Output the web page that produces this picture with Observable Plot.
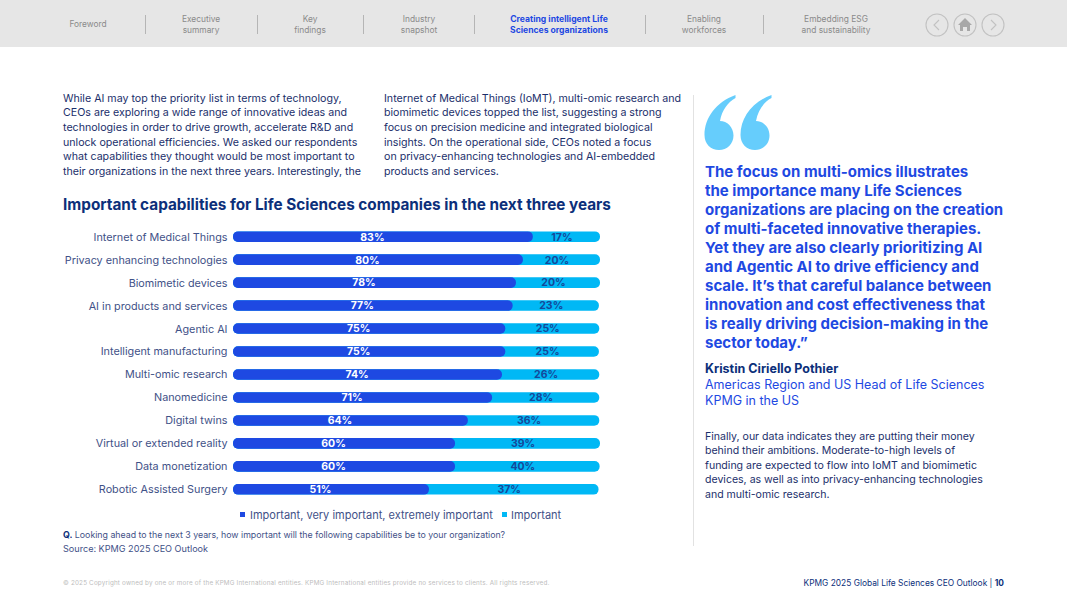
<!DOCTYPE html>
<html lang="en">
<head>
<meta charset="utf-8">
<script src="https://cdn.jsdelivr.net/npm/d3@7"></script>
<script src="https://cdn.jsdelivr.net/npm/@observablehq/plot@0.6"></script>
<style>
html,body{margin:0;padding:0;background:#fff;overflow:hidden}
#page{position:relative;width:1067px;height:600px;font-family:Inter,"Noto Sans",sans-serif;color:#1b2f6b;overflow:hidden}
.t{position:absolute;white-space:nowrap;line-height:1;transform:translateY(-50%)}
.c{transform:translate(-50%,-50%);text-align:center}
.r{transform:translate(-100%,-50%)}
#plot{position:absolute;left:0;top:219px}
#plot svg{display:block}
.box{position:absolute}
</style>
</head>
<body>
<div id="page"></div>
<script>
// ---- chart data ----
const categories = ["Internet of Medical Things","Privacy enhancing technologies","Biomimetic devices","AI in products and services","Agentic AI","Intelligent manufacturing","Multi-omic research","Nanomedicine","Digital twins","Virtual or extended reality","Data monetization","Robotic Assisted Surgery"];
// printed labels
const printedHigh = [83,80,78,77,75,75,74,71,64,60,60,51];
const printedImportant = [17,20,20,23,25,25,26,28,36,39,40,37];
// segment lengths as drawn in the picture
const drawnHigh = [81.7,79,77.1,76.2,74.2,74.2,73.3,70.6,64,60.5,60.5,53.4];
const drawnTotal = [100,100,100,99.7,99.8,99.7,99.8,99.8,99.8,100,99.9,99.6];
const seriesNames = ["Important, very important, extremely important","Important"];

// ---- page text ----
const navItems = [["Foreword"],["Executive","summary"],["Key","findings"],["Industry","snapshot"],["Creating intelligent Life","Sciences organizations"],["Enabling","workforces"],["Embedding ESG","and sustainability"]];
const introLeft = ["While AI may top the priority list in terms of technology,","CEOs are exploring a wide range of innovative ideas and","technologies in order to drive growth, accelerate R&D and","unlock operational efficiencies. We asked our respondents","what capabilities they thought would be most important to","their organizations in the next three years. Interestingly, the"];
const introRight = ["Internet of Medical Things (IoMT), multi-omic research and","biomimetic devices topped the list, suggesting a strong","focus on precision medicine and integrated biological","insights. On the operational side, CEOs noted a focus","on privacy-enhancing technologies and AI-embedded","products and services."];
const chartTitle = "Important capabilities for Life Sciences companies in the next three years";
const quoteLines = ["The focus on multi-omics illustrates","the importance many Life Sciences","organizations are placing on the creation","of multi-faceted innovative therapies.","Yet they are also clearly prioritizing AI","and Agentic AI to drive efficiency and","scale. It’s that careful balance between","innovation and cost effectiveness that","is really driving decision-making in the","sector today.”"];
const closing = ["Finally, our data indicates they are putting their money","behind their ambitions. Moderate-to-high levels of","funding are expected to flow into IoMT and biomimetic","devices, as well as into privacy-enhancing technologies","and multi-omic research."];

const page = document.getElementById("page");
const BLUE="#1e49e2", CYAN="#00b8f5", NAVY="#0c2f7a", INK="#1b2f6b";
function add(html,cls,left,top,style){
  const d=document.createElement("div");d.className="t "+(cls||"");d.innerHTML=html;
  d.style.cssText=`left:${left}px;top:${top}px;${style||""}`;page.appendChild(d);return d;
}
function box(l,t,w,h,c){const d=document.createElement("div");d.className="box";d.style.cssText=`left:${l}px;top:${t}px;width:${w}px;height:${h}px;background:${c}`;page.appendChild(d);}
const esc=s=>s.replace(/&/g,"&amp;");

// nav
box(0,0,1067,47,"#e6e6e6");
const navCentres=[88,201,310,419,559,704,836];
navItems.forEach((lines,i)=>{
  const active=i===4;
  const st=active?`color:${BLUE};font-weight:700;font-size:8.6px;`:"color:#8a8a8a;font-size:8.4px;";
  lines.forEach((s,j)=>add(s,"c",navCentres[i],lines.length===1?24:19+j*10.5,st));
});
[145,257,363,474,645,763].forEach(x=>box(x,15,1,19,"#b5b5b5"));
const ns="http://www.w3.org/2000/svg";
const icons=document.createElementNS(ns,"svg");
icons.setAttribute("width",1067);icons.setAttribute("height",600);
icons.style.cssText="position:absolute;left:0;top:0";
icons.innerHTML=`
<g fill="none" stroke="#c2c2c2" stroke-width="1.1">
<circle cx="937" cy="25" r="11"/><circle cx="965" cy="25" r="11"/><circle cx="993" cy="25" r="11"/>
<path d="M939,20 L934,25 L939,30M991,20 L996,25 L991,30"/></g>
<path d="M965,18 L972,25 L970,25 L970,31 L967,31 L967,27 L963,27 L963,31 L960,31 L960,25 L958,25Z" fill="#a8a8a8"/>
<path fill="#66cdfc" d="M735.5,95 C716,102 704.5,118 704.5,135 C704.5,144 711,150 719,150 C727,150 733.5,144 733.5,135.500 C733.500,127 727,121 720,121 C722,110 728,102 735.500,98Z"/>
<path fill="#66cdfc" d="M771.500,95 C752,102 740.500,118 740.500,135 C740.500,144 747,150 755,150 C763,150 769.500,144 769.500,135.500 C769.500,127 763,121 756,121 C758,110 764,102 771.500,98Z"/>`;
page.appendChild(icons);

// text columns
const body="font-size:10.65px;color:"+INK+";";
introLeft.forEach((s,i)=>add(esc(s),"",63,98.700+i*14.6,body));
introRight.forEach((s,i)=>add(esc(s),"",384,98.700+i*14.6,body));
add(chartTitle,"",63,204.500,`font-size:15.3px;font-weight:700;color:${NAVY};`);

// rule + quote
box(693,95,1,451,"#e2e2e2");
quoteLines.forEach((s,i)=>add(s,"",705,171+i*18.95,`font-size:15px;font-weight:700;color:${BLUE};`));
add("Kristin Ciriello Pothier","",705,368.500,`font-size:12.5px;font-weight:700;color:${NAVY};`);
add("Americas Region and US Head of Life Sciences","",705,384.500,`font-size:12.5px;color:${BLUE};`);
add("KPMG in the US","",705,400.500,`font-size:12.5px;color:${BLUE};`);
closing.forEach((s,i)=>add(s,"",705,436.600+i*14.5,"font-size:10.55px;color:"+INK+";"));

// chart
const rows = categories.map((category,i)=>({category,high:drawnHigh[i],total:drawnTotal[i],pHigh:printedHigh[i],pImp:printedImportant[i]}));
const chart = Plot.plot({
  width:620,height:288,marginLeft:233,marginRight:20,marginTop:0,marginBottom:0,
  style:{fontFamily:"Inter,'Noto Sans',sans-serif",background:"transparent"},
  x:{domain:[0,100],axis:null},
  y:{domain:categories,padding:0.54,round:false,label:null},
  marks:[
    Plot.axisY({tickSize:0,tickPadding:6,fontSize:10.8,color:"#3f5187",label:null}),
    Plot.barX(rows,{y:"category",x1:0,x2:"total",fill:CYAN,rx:5}),
    Plot.barX(rows,{y:"category",x1:0,x2:"high",fill:BLUE,rx:5}),
    Plot.text(rows,{y:"category",x:d=>d.high/2,text:d=>d.pHigh+"%",dx:-11,fill:"#fff",fontWeight:700,fontSize:10.500}),
    Plot.text(rows,{y:"category",x:d=>(d.high+d.total)/2,text:d=>d.pImp+"%",dx:-5,fill:"#15489a",fontWeight:700,fontSize:10.500})
  ]
});
const holder=document.createElement("div");holder.id="plot";holder.appendChild(chart);page.appendChild(holder);

// legend + notes
box(240,511.500,5,5,BLUE);
add(seriesNames[0],"",250,514.500,`font-size:11px;color:#3f5187;`);
box(502,511.500,5,5,CYAN);
add(seriesNames[1],"",511,514.500,`font-size:11px;color:#3f5187;`);
add(`<b style="color:${NAVY}">Q.</b> Looking ahead to the next 3 years, how important will the following capabilities be to your organization?`,"",63,535,`font-size:8.8px;color:#3f5187;`);
add("Source: KPMG 2025 CEO Outlook","",63,549,`font-size:9.1px;color:#3f5187;`);

// footer
add("© 2025 Copyright owned by one or more of the KPMG International entities. KPMG International entities provide no services to clients. All rights reserved.","",63,582.500,`font-size:6.3px;letter-spacing:.19px;color:#bdbdbd;`);
add(`KPMG 2025 Global Life Sciences CEO Outlook | <b>10</b>`,"r",1004,582.500,`font-size:8.4px;color:${NAVY};`);
</script>
</body>
</html>
